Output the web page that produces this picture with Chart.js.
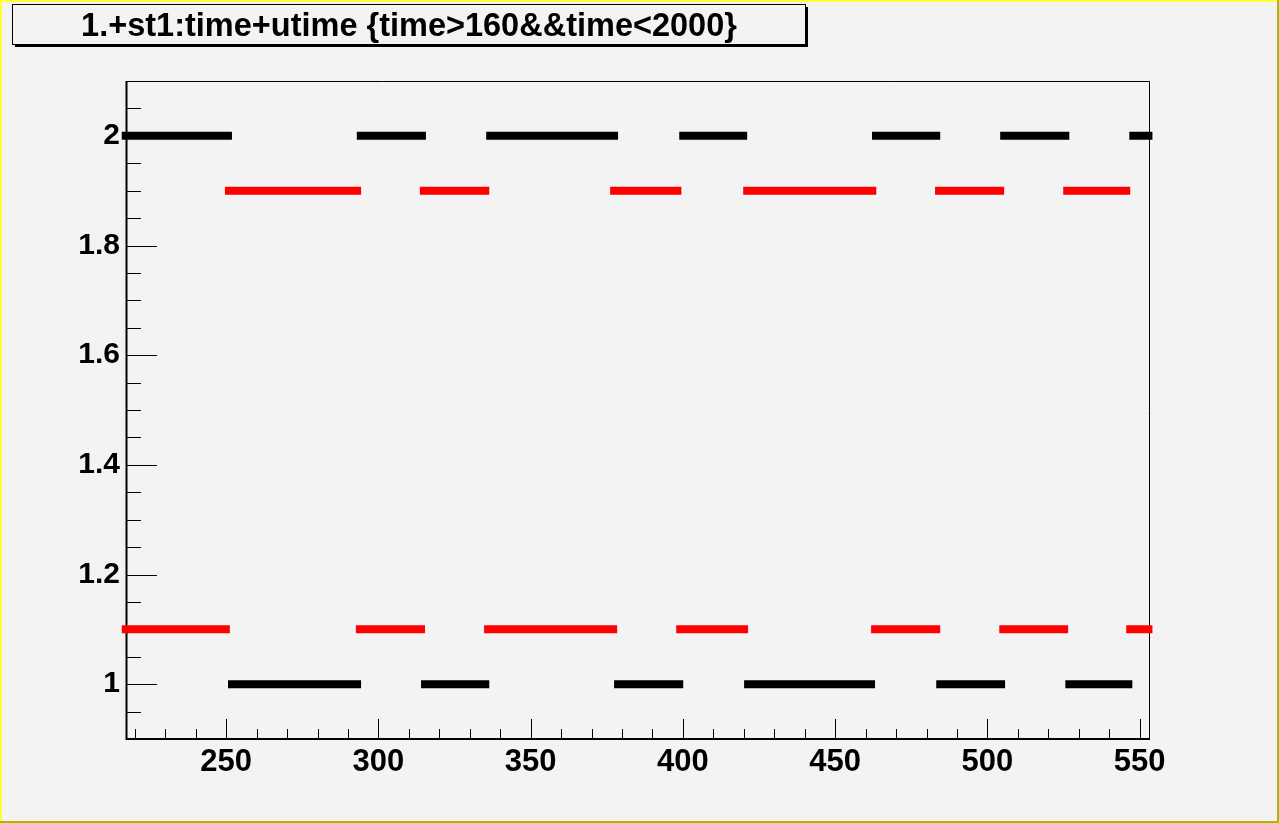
<!DOCTYPE html>
<html>
<head>
<meta charset="utf-8">
<title>1.+st1:time+utime</title>
<script src="https://cdn.jsdelivr.net/npm/chart.js@4/dist/chart.umd.min.js"></script>
<style>
	html, body { margin: 0; padding: 0; background: #f3f3f3; }
	canvas { display: block; }
</style>
</head>
<body>
<canvas id="chart" width="1279" height="823"></canvas>
<script>
// ------------------------------------------------------------ //
// --------------------        DATA        -------------------- //
// ------------------------------------------------------------ //

const titleText = '1.+st1:time+utime {time>160&&time<2000}';

const xMin = 217.1;
const xMax = 553.4;
const yMin = 0.9;
const yMax = 2.1;

const xTicks = [250, 300, 350, 400, 450, 500, 550];
const xTickLabels = ['250', '300', '350', '400', '450', '500', '550'];
const yTicks = [1, 1.2, 1.4, 1.6, 1.8, 2];
const yTickLabels = ['1', '1.2', '1.4', '1.6', '1.8', '2'];

// segments at y = 2 (black)
const blackHighStart = [215.7, 292.9, 335.4, 398.8, 462.1, 504.2, 546.6];
const blackHighEnd = [251.9, 315.6, 378.7, 421.1, 484.5, 526.9, 554.2];
// segments at y = 1.9 (red)
const redHighStart = [249.6, 313.6, 376.1, 419.8, 482.8, 524.9];
const redHighEnd = [294.3, 336.4, 399.5, 463.5, 505.5, 546.9];
// segments at y = 1.1 (red)
const redLowStart = [215.7, 292.6, 334.7, 397.8, 461.8, 503.9, 545.6];
const redLowEnd = [251.2, 315.3, 378.4, 421.4, 484.5, 526.5, 554.2];
// segments at y = 1 (black)
const blackLowStart = [250.6, 314.0, 377.4, 420.1, 483.2, 525.6];
const blackLowEnd = [294.3, 336.4, 400.1, 463.1, 505.8, 547.6];

const levels = { blackHigh: 2, redHigh: 1.9, redLow: 1.1, blackLow: 1 };

// ------------------------------------------------------------ //
// --------------------      HELPERS       -------------------- //
// ------------------------------------------------------------ //

// turn start/end lists into one line with null breaks between segments
function segments(starts, ends, level) {
	const pts = [];
	starts.forEach((s, i) => {
		pts.push({ x: s, y: level });
		pts.push({ x: ends[i], y: level });
		if (i < starts.length - 1) {
			pts.push({ x: (ends[i] + starts[i + 1]) / 2, y: null });
		}
	});
	return pts;
}

function lineSet(label, starts, ends, level, color) {
	return {
		label,
		data: segments(starts, ends, level),
		borderColor: color,
		backgroundColor: color,
		borderWidth: 8,
		borderCapStyle: 'butt',
		pointRadius: 0,
		spanGaps: false,
		clip: false,
	};
}

const fontFamily = '"Liberation Sans", Arial, sans-serif';

// canvas border, title pave, frame and inner ticks in ROOT style
const rootPad = {
	id: 'rootPad',
	beforeDraw(chart) {
		const ctx = chart.ctx;
		const W = chart.width;
		const H = chart.height;
		ctx.save();
		ctx.fillStyle = '#f3f3f3';
		ctx.fillRect(0, 0, W, H);

		// canvas border: light top/left, dark bottom/right
		ctx.fillStyle = '#ffff33';
		ctx.fillRect(0, 0, W, 2);
		ctx.fillRect(0, 0, 2, H);
		ctx.fillStyle = '#b4b400';
		ctx.fillRect(0, H - 2, W, 2);
		ctx.fillRect(W - 2, 0, 2, H);

		// title pave with shadow
		ctx.fillStyle = '#000';
		ctx.fillRect(15, 44, 793, 3);
		ctx.fillRect(805, 7, 3, 40);
		ctx.fillStyle = '#f3f3f3';
		ctx.fillRect(12.5, 4.5, 793, 40);
		ctx.strokeStyle = '#000';
		ctx.lineWidth = 1;
		ctx.strokeRect(12.5, 4.5, 793, 40);
		ctx.fillStyle = '#000';
		ctx.font = 'bold 32.5px ' + fontFamily;
		ctx.textAlign = 'center';
		ctx.textBaseline = 'alphabetic';
		ctx.fillText(titleText, 409, 36);
		ctx.restore();
	},
	beforeDatasetsDraw(chart) {
		const ctx = chart.ctx;
		const { left, right, top, bottom } = chart.chartArea;
		const xs = chart.scales.x;
		const ys = chart.scales.y;
		ctx.save();
		ctx.strokeStyle = '#000';
		ctx.lineWidth = 1;
		ctx.beginPath();
		// x ticks, pointing up from the bottom axis
		for (let v = 220; v <= xMax; v += 10) {
			const px = Math.round(xs.getPixelForValue(v)) + 0.5;
			const len = v % 50 === 0 ? 20 : 10;
			ctx.moveTo(px, bottom);
			ctx.lineTo(px, bottom - len);
		}
		// y ticks, pointing right from the left axis
		for (let i = 1; i <= 24; i++) {
			const v = yMin + i * 0.05;
			const py = Math.round(ys.getPixelForValue(v)) + 0.5;
			const major = i % 4 === 2;
			ctx.moveTo(left, py);
			ctx.lineTo(left + (major ? 31 : 15), py);
		}
		ctx.stroke();

		// frame
		ctx.beginPath();
		ctx.moveTo(left + 0.5, top + 0.5);
		ctx.lineTo(right - 0.5, top + 0.5);
		ctx.lineTo(right - 0.5, bottom);
		ctx.stroke();
		ctx.lineWidth = 2;
		ctx.beginPath();
		ctx.moveTo(left + 0.5, top);
		ctx.lineTo(left + 0.5, bottom);
		ctx.moveTo(left - 0.5, bottom);
		ctx.lineTo(right, bottom);
		ctx.stroke();
		ctx.restore();
	},
};

// ------------------------------------------------------------ //
// --------------------       CHART        -------------------- //
// ------------------------------------------------------------ //

const ctx = document.getElementById('chart');
new Chart(ctx, {
	type: 'line',
	data: {
		datasets: [
			lineSet('st1 high', blackHighStart, blackHighEnd, levels.blackHigh, '#000000'),
			lineSet('utime high', redHighStart, redHighEnd, levels.redHigh, '#ff0000'),
			lineSet('utime low', redLowStart, redLowEnd, levels.redLow, '#ff0000'),
			lineSet('st1 low', blackLowStart, blackLowEnd, levels.blackLow, '#000000'),
		],
	},
	options: {
		responsive: false,
		devicePixelRatio: 1,
		animation: false,
		layout: {
			padding: { left: 0, top: 81, right: 129, bottom: 0 },
		},
		scales: {
			x: {
				type: 'linear',
				min: xMin,
				max: xMax,
				afterBuildTicks: (scale) => {
					scale.ticks = xTicks.map((v) => ({ value: v }));
				},
				afterFit: (scale) => {
					scale.height = 84;
				},
				grid: { display: false, drawTicks: false },
				border: { display: false },
				ticks: {
					color: '#000',
					font: { family: fontFamily, size: 31, weight: 'bold' },
					padding: 5,
					maxRotation: 0,
					autoSkip: false,
					callback: (value) => xTickLabels[xTicks.indexOf(value)],
				},
			},
			y: {
				type: 'linear',
				min: yMin,
				max: yMax,
				afterBuildTicks: (scale) => {
					scale.ticks = yTicks.map((v) => ({ value: v }));
				},
				afterFit: (scale) => {
					scale.width = 126;
				},
				grid: { display: false, drawTicks: false },
				border: { display: false },
				ticks: {
					color: '#000',
					font: { family: fontFamily, size: 30, weight: 'bold' },
					padding: 6,
					autoSkip: false,
					callback: (value) => yTickLabels[yTicks.indexOf(value)],
				},
			},
		},
		plugins: {
			legend: { display: false },
			tooltip: { enabled: false },
			title: { display: false },
		},
	},
	plugins: [rootPad],
});
</script>
</body>
</html>
